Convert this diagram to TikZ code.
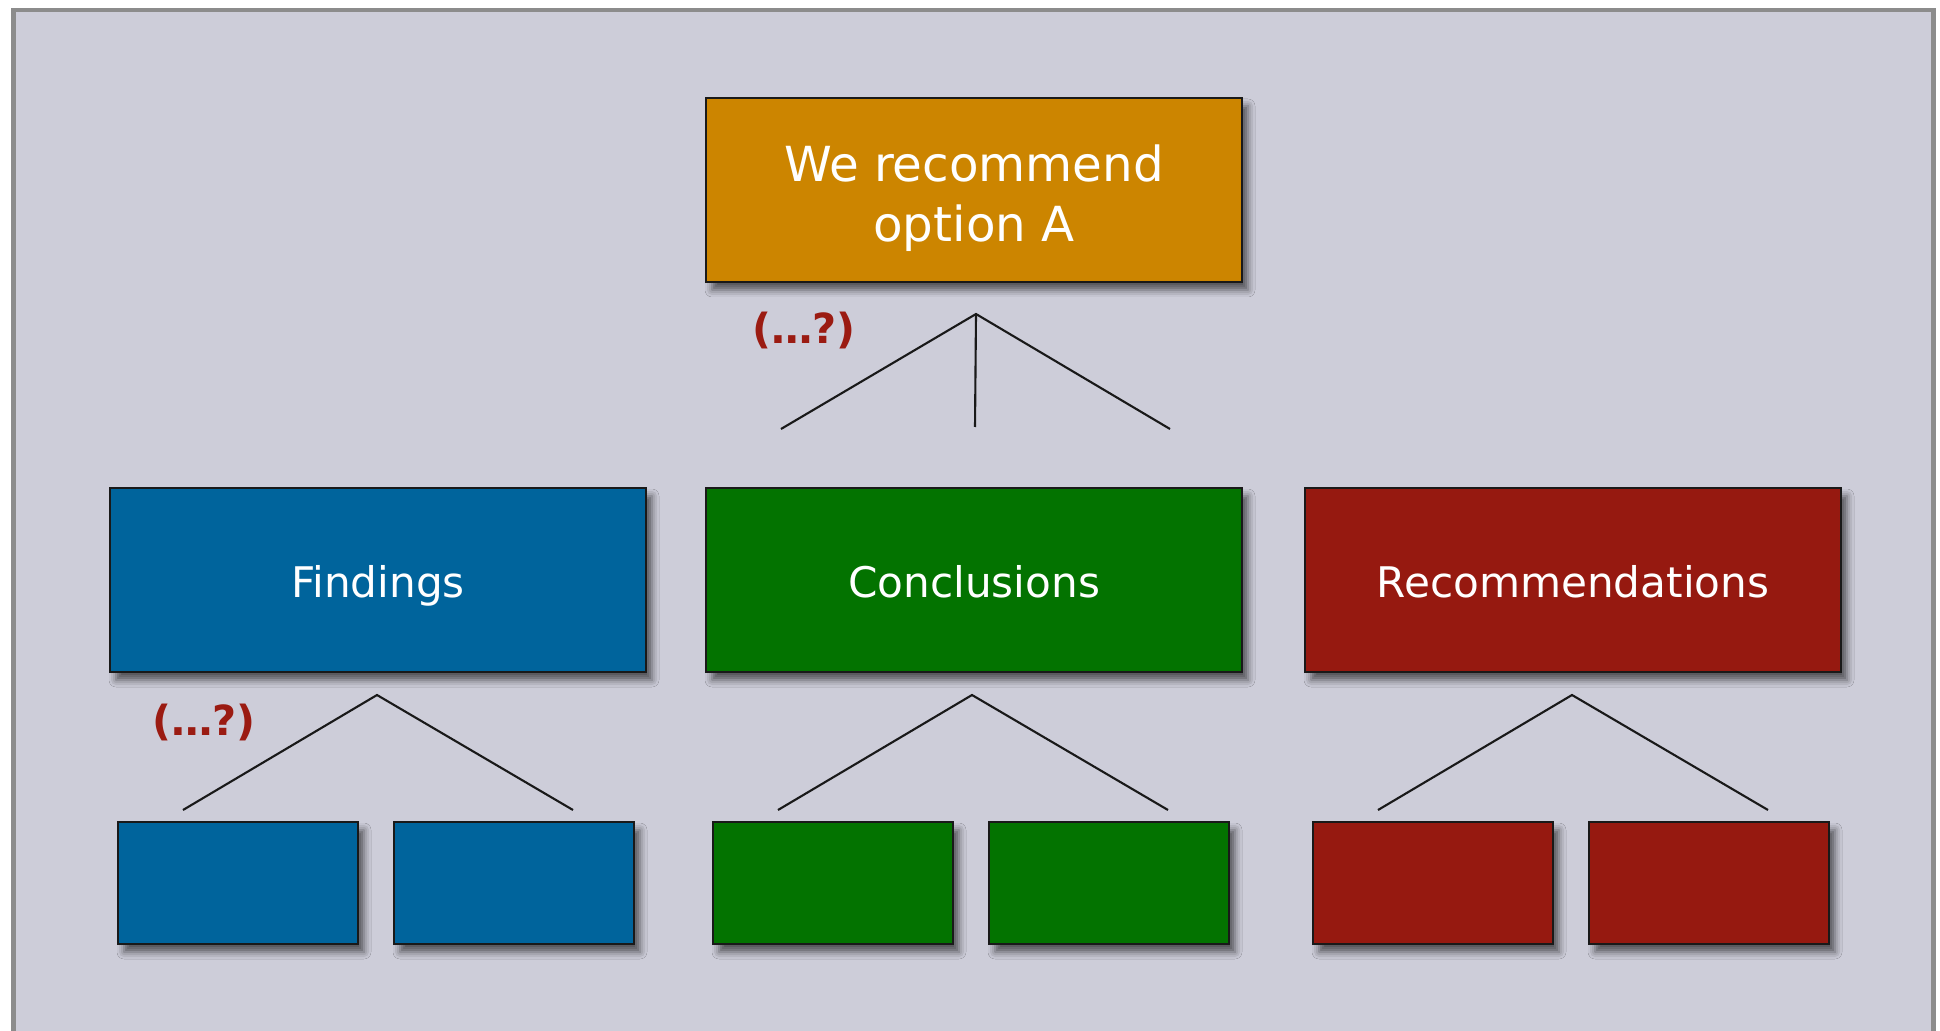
\documentclass[tikz,border=0pt]{standalone}
\usepackage{fontspec}
\setmainfont{DejaVu Sans}
\usetikzlibrary{shadows.blur}

\definecolor{panel}{RGB}{205,205,217}
\definecolor{framegray}{RGB}{140,140,140}
\definecolor{topfill}{RGB}{204,133,0}
\definecolor{findfill}{RGB}{0,100,156}
\definecolor{conclfill}{RGB}{3,115,0}
\definecolor{recfill}{RGB}{150,25,16}
\definecolor{queryred}{RGB}{155,27,18}

\begin{document}
\begin{tikzpicture}[
  frame/.style={draw=framegray, line width=1.4pt, fill=panel},
  box/.style={rectangle, draw=black!90, line width=0.7pt, text=white, align=center,
    blur shadow={shadow xshift=0.06cm, shadow yshift=-0.08cm, shadow blur radius=0.07cm, shadow opacity=60}},
  headbox/.style={box, minimum width=5.36cm, minimum height=1.84cm,
    font=\fontsize{13.75}{16.9}\selectfont, text height=32.4pt, text depth=3.2pt},
  bigbox/.style={box, minimum width=5.36cm, minimum height=1.84cm,
    font=\fontsize{12}{15}\selectfont, text height=11.5pt, text depth=1.3pt},
  smallbox/.style={box, minimum width=2.40cm, minimum height=1.22cm},
  branch/.style={draw=black!90, line width=0.6pt},
  query/.style={text=queryred, font=\bfseries\fontsize{11.8}{14}\selectfont}
]

% Canvas and panel
\useasboundingbox (0,0) rectangle (19.40,-10.31);
\clip (0,0) rectangle (19.40,-10.31);
\fill[white] (0,0) rectangle (19.40,-10.31);
\draw[frame] (0.135,-0.10) rectangle (19.335,-10.80);

% Top box
\node[headbox, fill=topfill] (top) at (9.74,-1.90) {We recommend\\option A};

% Middle boxes
\node[bigbox, fill=findfill] (find) at (3.78,-5.80) {Findings};
\node[bigbox, fill=conclfill] (concl) at (9.74,-5.80) {Conclusions};
\node[bigbox, fill=recfill] (rec) at (15.73,-5.80) {Recommendations};

% Bottom boxes
\node[smallbox, fill=findfill] (find1) at (2.38,-8.83) {};
\node[smallbox, fill=findfill] (find2) at (5.14,-8.83) {};
\node[smallbox, fill=conclfill] (concl1) at (8.33,-8.83) {};
\node[smallbox, fill=conclfill] (concl2) at (11.09,-8.83) {};
\node[smallbox, fill=recfill] (rec1) at (14.33,-8.83) {};
\node[smallbox, fill=recfill] (rec2) at (17.09,-8.83) {};

% Branch points
\coordinate (topapex) at (9.76,-3.14);
\coordinate (topleft) at (7.81,-4.29);
\coordinate (topmid) at (9.75,-4.27);
\coordinate (topright) at (11.70,-4.29);

\coordinate (findapex) at (3.77,-6.95);
\coordinate (findleft) at (1.83,-8.10);
\coordinate (findright) at (5.73,-8.10);

\coordinate (conclapex) at (9.72,-6.95);
\coordinate (conclleft) at (7.78,-8.10);
\coordinate (conclright) at (11.68,-8.10);

\coordinate (recapex) at (15.72,-6.95);
\coordinate (recleft) at (13.78,-8.10);
\coordinate (recright) at (17.68,-8.10);

% Branches
\draw[branch] (topleft) -- (topapex) -- (topright);
\draw[branch] (topapex) -- (topmid);
\draw[branch] (findleft) -- (findapex) -- (findright);
\draw[branch] (conclleft) -- (conclapex) -- (conclright);
\draw[branch] (recleft) -- (recapex) -- (recright);

% Labels
\node[query] (q1) at (8.04,-3.31) {(…?)};
\node[query] (q2) at (2.04,-7.22) {(…?)};

\end{tikzpicture}
\end{document}
